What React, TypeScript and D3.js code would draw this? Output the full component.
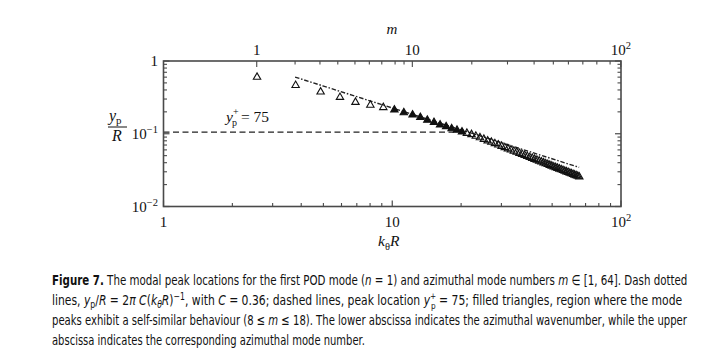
import React, { useLayoutEffect, useRef, useState } from "react";
import * as d3 from "d3";

// azimuthal mode numbers m = 1..64
const modeNumbers: number[] = d3.range(1, 65);
// modal peak location y_p/R for each m
const peakLocations: number[] = [
  0.61, 0.471, 0.383, 0.323, 0.276, 0.252, 0.234, 0.217, 0.199, 0.185,
  0.171, 0.157, 0.146, 0.135, 0.128, 0.12, 0.114, 0.108, 0.1035, 0.0995,
  0.0945, 0.09, 0.0856, 0.0815, 0.0781, 0.0747, 0.0716, 0.0686, 0.0659, 0.0634,
  0.061, 0.0588, 0.0568, 0.0549, 0.0531, 0.0514, 0.0498, 0.0483, 0.0469, 0.0455,
  0.0442, 0.043, 0.0418, 0.0407, 0.0396, 0.0386, 0.0376, 0.0367, 0.0358, 0.035,
  0.0342, 0.0334, 0.0327, 0.032, 0.0313, 0.0306, 0.03, 0.0294, 0.0288, 0.0282,
  0.0276, 0.0271, 0.0266, 0.0261,
];
const selfSimilarRange: [number, number] = [8, 18];

// upper abscissa: mode number ticks and their positions in k_theta R
const topTickModes: number[] = [1, 2, 3, 4, 5, 6, 7, 8, 9, 10, 20, 30, 40, 50, 60, 70, 80, 90, 100];
const topTickKR: number[] = [2.556, 3.76, 4.83, 5.78, 6.87, 7.94, 9.0, 10.29, 11.26, 12.24, 22.27, 31.9, 41.7, 50.6, 58.9, 68.1, 78.4, 89.6, 99.8];

// dash-dotted fit y_p/R = 2 pi C (k R)^-1
const fitC = 0.36;
const fitRange: number[] = [3.76, 65.6];
// dashed line y_p^+ = 75
const dashedLevel = 0.105;
const dashedRange: number[] = [1, 18.6];

const xMajor = [1, 10, 100];
const yMajor = [0.01, 0.1, 1];

const captionX = 52;
const captionWidths = [636, 636, 636, 313];

export default function App() {
  const W = 712, H = 357;
  const left = 163.5, right = 621, top = 61, bottom = 206.5;
  const x = d3.scaleLog().domain([1, 100]).range([left, right]);
  const y = d3.scaleLog().domain([0.01, 1]).range([bottom, top]);

  const capRefs = useRef<(SVGTextElement | null)[]>([]);
  const [scales, setScales] = useState<number[]>([1, 1, 1, 1]);
  useLayoutEffect(() => {
    const s = capRefs.current.map((el, i) => {
      if (!el) return 1;
      const w = el.getComputedTextLength();
      return w > 0 ? captionWidths[i] / w : 1;
    });
    setScales(s);
  }, []);

  const pts = modeNumbers.map((m, i) => {
    const yp = peakLocations[i];
    return { m, yp, kr: m / (1 - yp) };
  });

  const xMinor: number[] = [];
  [1, 10].forEach((d) => { for (let k = 2; k <= 9; k++) xMinor.push(d * k); });
  const yMinor: number[] = [];
  [0.01, 0.1].forEach((d) => { for (let k = 2; k <= 9; k++) yMinor.push(d * k); });

  const fitLine = d3.line<number>().x((d) => x(d)).y((d) => y((2 * Math.PI * fitC) / d));
  const fitSamples = d3.range(0, 21).map((i) => fitRange[0] * Math.pow(fitRange[1] / fitRange[0], i / 20));

  const tri = (cx: number, cy: number) =>
    `M${cx - 3.7},${cy + 2.7}L${cx + 3.7},${cy + 2.7}L${cx},${cy - 3.7}Z`;

  const axisColor = "#4a4a4a";
  const serif = "'Liberation Serif', 'Times New Roman', serif";
  const sans = "'Liberation Sans Narrow', 'DejaVu Sans Condensed', Roboto, sans-serif";
  const major = 6, minor = 3.5;

  const capTransform = (i: number) =>
    `translate(${captionX},0) scale(${scales[i]},1) translate(${-captionX},0)`;

  return (
    <svg width={W} height={H} style={{ position: "absolute", left: 0, top: 0, background: "#fff" }} fontFamily={serif}>
      {/* dashed line */}
      <line x1={x(dashedRange[0])} x2={x(dashedRange[1])} y1={y(dashedLevel)} y2={y(dashedLevel)}
        stroke="#222" strokeWidth={1.3} strokeDasharray="6,3.5" />
      {/* dash dotted fit */}
      <path d={fitLine(fitSamples) || ""} fill="none" stroke="#222" strokeWidth={1.4} strokeDasharray="4.5,1.8,1.5,1.8" />
      {/* triangles */}
      {pts.map((p) => {
        const filled = p.m >= selfSimilarRange[0] && p.m <= selfSimilarRange[1];
        return (
          <path key={p.m} d={tri(x(p.kr), y(p.yp))} fill={filled ? "#111" : "#fff"} fillOpacity={filled ? 1 : 0}
            stroke="#111" strokeWidth={1.1} />
        );
      })}

      {/* frame */}
      <rect x={left} y={top} width={right - left} height={bottom - top} fill="none" stroke={axisColor} strokeWidth={1.6} />

      {/* bottom ticks */}
      {xMajor.map((v) => (
        <line key={"bx" + v} x1={x(v)} x2={x(v)} y1={bottom} y2={bottom - major} stroke={axisColor} strokeWidth={1.2} />
      ))}
      {xMinor.map((v) => (
        <line key={"bxm" + v} x1={x(v)} x2={x(v)} y1={bottom} y2={bottom - minor} stroke={axisColor} strokeWidth={1.1} />
      ))}
      {/* top ticks (mode number) */}
      {topTickModes.map((m, i) => {
        const isMajor = m === 1 || m === 10 || m === 100;
        return (
          <line key={"tx" + m} x1={x(topTickKR[i])} x2={x(topTickKR[i])} y1={top} y2={top + (isMajor ? major : minor)}
            stroke={axisColor} strokeWidth={1.1} />
        );
      })}
      {/* left/right ticks */}
      {yMajor.map((v) => (
        <g key={"ly" + v}>
          <line x1={left} x2={left + major} y1={y(v)} y2={y(v)} stroke={axisColor} strokeWidth={1.2} />
          <line x1={right} x2={right - major} y1={y(v)} y2={y(v)} stroke={axisColor} strokeWidth={1.2} />
        </g>
      ))}
      {yMinor.map((v) => (
        <g key={"lym" + v}>
          <line x1={left} x2={left + minor} y1={y(v)} y2={y(v)} stroke={axisColor} strokeWidth={1.1} />
          <line x1={right} x2={right - minor} y1={y(v)} y2={y(v)} stroke={axisColor} strokeWidth={1.1} />
        </g>
      ))}

      {/* bottom tick labels */}
      <g fontSize={15} fill="#111" textAnchor="middle">
        <text x={x(1)} y={227}>1</text>
        <text x={x(10)} y={227}>10</text>
        <text x={x(100)} y={227}>10<tspan fontSize={10.5} dy={-6}>2</tspan></text>
      </g>
      {/* top tick labels */}
      <g fontSize={15} fill="#111" textAnchor="middle">
        <text x={x(topTickKR[0])} y={55}>1</text>
        <text x={x(topTickKR[9])} y={55}>10</text>
        <text x={x(topTickKR[18])} y={55}>10<tspan fontSize={10.5} dy={-6}>2</tspan></text>
      </g>
      <text x={392} y={34} fontSize={15} fontStyle="italic" textAnchor="middle" fill="#111">m</text>
      {/* left tick labels */}
      <g fontSize={15} fill="#111" textAnchor="end">
        <text x={158} y={y(1) + 5}>1</text>
        <text x={158} y={y(0.1) + 5}>10<tspan fontSize={10.5} dy={-6}>−1</tspan></text>
        <text x={158} y={y(0.01) + 5}>10<tspan fontSize={10.5} dy={-6}>−2</tspan></text>
      </g>
      {/* x label */}
      <text x={378} y={246} fontSize={15.5} fill="#111">
        <tspan fontStyle="italic">k</tspan><tspan fontSize={10.5} dy={4}>θ</tspan><tspan fontStyle="italic" dy={-4}>R</tspan>
      </text>
      {/* y label */}
      <g fill="#111" fontSize={16}>
        <text x={109} y={120.5} fontStyle="italic">y<tspan fontStyle="normal" fontSize={11} dy={3}>p</tspan></text>
        <line x1={108} x2={127} y1={127} y2={127} stroke="#111" strokeWidth={1} />
        <text x={117} y={140.5} fontStyle="italic" textAnchor="middle">R</text>
      </g>
      {/* annotation */}
      <text x={226} y={122} fontSize={15.5} fill="#111">
        <tspan fontStyle="italic">y</tspan>
        <tspan fontSize={10} dy={-7}>+</tspan>
        <tspan fontSize={10} dx={-6.5} dy={11}>p</tspan>
        <tspan dy={-4}> = 75</tspan>
      </text>

      {/* caption */}
      <g fontFamily={sans} fontSize={14} fill="#111">
        <text ref={(el) => { capRefs.current[0] = el; }} transform={capTransform(0)} x={captionX} y={285}>
          <tspan fontWeight="bold">Figure 7.</tspan> The modal peak locations for the first POD mode (<tspan fontStyle="italic">n</tspan> = 1) and azimuthal mode numbers <tspan fontStyle="italic">m</tspan> ∈ [1, 64]. Dash dotted
        </text>
        <text ref={(el) => { capRefs.current[1] = el; }} transform={capTransform(1)} x={captionX} y={305}>
          lines, <tspan fontStyle="italic">y</tspan><tspan fontSize={10} dy={3}>p</tspan><tspan dy={-3}>/</tspan><tspan fontStyle="italic">R</tspan> = 2<tspan fontStyle="italic">π C</tspan>(<tspan fontStyle="italic">k</tspan><tspan fontSize={10} fontStyle="italic" dy={3}>θ</tspan><tspan fontStyle="italic" dy={-3}>R</tspan>)<tspan fontSize={10} dy={-5}>−1</tspan><tspan dy={5}>, with </tspan><tspan fontStyle="italic">C</tspan> = 0.36; dashed lines, peak location <tspan fontStyle="italic">y</tspan><tspan fontSize={9.5} dy={-6}>+</tspan><tspan fontSize={9.5} dx={-6} dy={10}>p</tspan><tspan dy={-4}> = 75; filled triangles, region where the mode</tspan>
        </text>
        <text ref={(el) => { capRefs.current[2] = el; }} transform={capTransform(2)} x={captionX} y={325}>
          peaks exhibit a self-similar behaviour (8 ≤ <tspan fontStyle="italic">m</tspan> ≤ 18). The lower abscissa indicates the azimuthal wavenumber, while the upper
        </text>
        <text ref={(el) => { capRefs.current[3] = el; }} transform={capTransform(3)} x={captionX} y={345}>
          abscissa indicates the corresponding azimuthal mode number.
        </text>
      </g>
    </svg>
  );
}
